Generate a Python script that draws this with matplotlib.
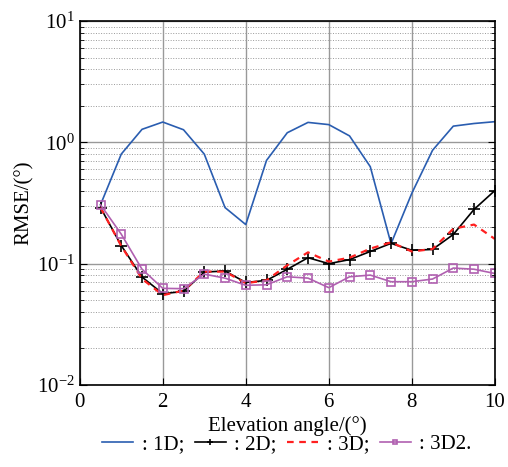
import matplotlib
matplotlib.use("Agg")
import matplotlib.pyplot as plt
import numpy as np
from matplotlib.ticker import LogLocator, NullFormatter

plt.rcParams['font.family'] = ['Liberation Serif', 'DejaVu Serif']
plt.rcParams['mathtext.fontset'] = 'stix'

angle = [0.5, 1, 1.5, 2, 2.5, 3, 3.5, 4, 4.5, 5, 5.5, 6, 6.5, 7, 7.5, 8, 8.5, 9, 9.5, 10]

rmse_1d = [0.306, 0.80, 1.28, 1.47, 1.27, 0.80, 0.29, 0.21, 0.71, 1.20,
           1.46, 1.40, 1.13, 0.63, 0.146, 0.38, 0.86, 1.36, 1.43, 1.48]
rmse_2d = [0.29, 0.141, 0.0776, 0.0566, 0.059, 0.0853, 0.087, 0.070, 0.0728, 0.0898,
           0.112, 0.100, 0.108, 0.126, 0.147, 0.129, 0.131, 0.174, 0.28, 0.40]
rmse_3d = [0.29, 0.140, 0.075, 0.055, 0.060, 0.086, 0.086, 0.069, 0.073, 0.097,
           0.124, 0.104, 0.112, 0.133, 0.150, 0.126, 0.132, 0.194, 0.21, 0.16]
rmse_3d2 = [0.306, 0.175, 0.090, 0.0626, 0.0622, 0.082, 0.076, 0.0663, 0.067, 0.078,
            0.076, 0.0634, 0.078, 0.0805, 0.071, 0.071, 0.0747, 0.092, 0.090, 0.083]

fig = plt.figure(figsize=(5.08, 4.67), dpi=100)
ax = fig.add_axes([0.157, 0.1756, 0.817, 0.7794])

ax.plot(angle, rmse_1d, color='#2a5db0', lw=1.2, label=': 1D;')
ax.plot(angle, rmse_2d, color='black', lw=1.2, marker='+', ms=8, mew=1.2, label=': 2D;')
ax.plot(angle, rmse_3d, color='#ff2020', lw=1.6, ls=(0, (3, 2.5)), label=': 3D;')
ax.plot(angle, rmse_3d2, color='#b060b0', lw=1.2, marker='s', ms=6, mfc='none', mew=1.2,
        label=': 3D2.')

ax.set_yscale('log')
ax.set_ylim(1e-2, 1e1)
ax.set_xlim(0, 10)
ax.set_xticks([0, 2, 4, 6, 8, 10])
ax.yaxis.set_major_locator(LogLocator(base=10, numticks=10))
ax.yaxis.set_minor_locator(LogLocator(base=10, subs=np.arange(2, 10), numticks=10))
ax.yaxis.set_minor_formatter(NullFormatter())

ax.grid(True, which='major', color='#999999', lw=1.0, ls='-')
ax.grid(True, which='minor', axis='y', color='#999999', lw=0.7, ls=':')
ax.set_axisbelow(True)

ax.tick_params(which='both', direction='in', top=False, right=True, labelsize=15)
ax.tick_params(which='major', length=5)
ax.tick_params(which='minor', length=3)
ax.tick_params(axis='x', pad=6)
for sp in ax.spines.values():
    sp.set_linewidth(1.2)

ax.set_xlabel('Elevation angle/(°)', fontsize=15, labelpad=3)
ax.set_ylabel('RMSE/(°)', fontsize=15, labelpad=2)

fig.legend(loc='lower center', bbox_to_anchor=(0.565, -0.012), ncol=4, frameon=False,
           fontsize=15, handlelength=1.5, handletextpad=0.4, columnspacing=0.5,
           markerscale=0.6)

fig.savefig('out.png', dpi=100)
